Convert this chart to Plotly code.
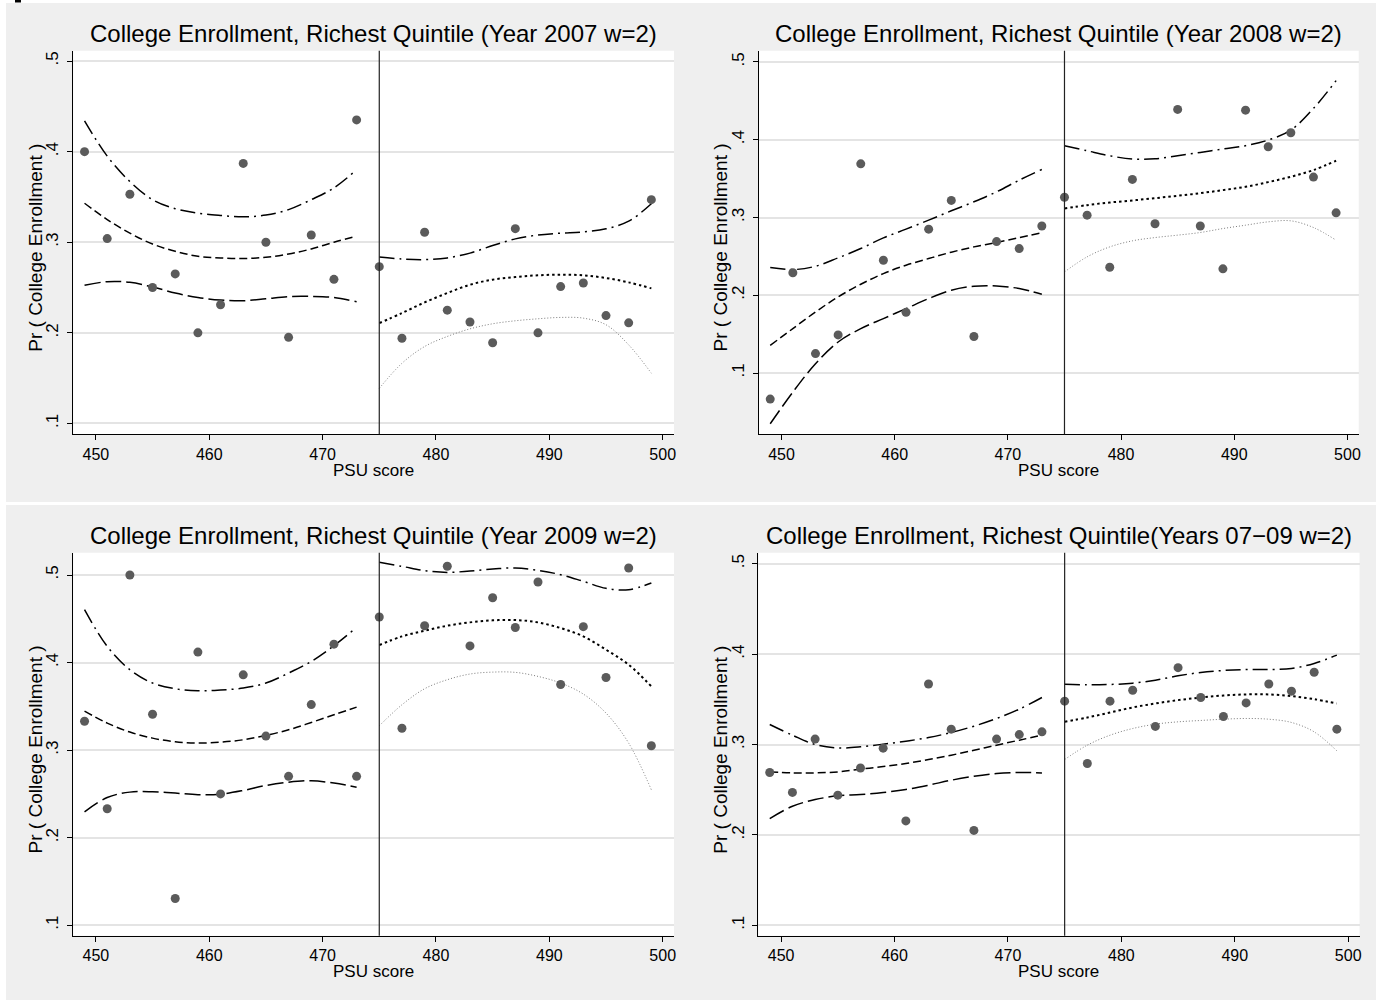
import plotly.graph_objects as go

# PSU score bins (w=2), left and right of the 475 cutoff
x_left = [449, 451, 453, 455, 457, 459, 461, 463, 465, 467, 469, 471, 473]
x_right = [475, 477, 479, 481, 483, 485, 487, 489, 491, 493, 495, 497, 499]
x_ticks = [450, 460, 470, 480, 490, 500]
y_ticks = [0.1, 0.2, 0.3, 0.4, 0.5]
y_tick_text = [".1", ".2", ".3", ".4", ".5"]
cutoff = 475

titles = [
    "College Enrollment, Richest Quintile (Year 2007 w=2)",
    "College Enrollment, Richest Quintile (Year 2008 w=2)",
    "College Enrollment, Richest Quintile (Year 2009 w=2)",
    "College Enrollment, Richest Quintile(Years 07\u221209 w=2)",
]
x_title = "PSU score"
y_title = "Pr ( College Enrollment )"

# ---- Year 2007 ----
y07_points = [0.400, 0.304, 0.353, 0.250, 0.265, 0.200, 0.231, 0.387, 0.300, 0.195, 0.308, 0.259, 0.435,
              0.273, 0.194, 0.311, 0.225, 0.212, 0.189, 0.315, 0.200, 0.251, 0.255, 0.219, 0.211, 0.347]
y07_hi_left = [0.434, 0.395, 0.367, 0.347, 0.337, 0.332, 0.3295, 0.328, 0.330, 0.336, 0.347, 0.360, 0.380]
y07_fit_left = [0.343, 0.325, 0.310, 0.298, 0.290, 0.2845, 0.2827, 0.282, 0.2834, 0.287, 0.2926, 0.300, 0.3066]
y07_lo_left = [0.2524, 0.2565, 0.2557, 0.2506, 0.2439, 0.239, 0.2362, 0.2354, 0.2376, 0.240, 0.2402, 0.239, 0.2343]
y07_hi_right = [0.2838, 0.2815, 0.2808, 0.2827, 0.288, 0.2963, 0.3037, 0.308, 0.310, 0.3114, 0.3148, 0.3232, 0.3424]
y07_fit_right = [0.2107, 0.2218, 0.2336, 0.2439, 0.2531, 0.2587, 0.2616, 0.2635, 0.2642, 0.2635, 0.2605, 0.2557, 0.2491]
y07_lo_right = [0.1387, 0.1664, 0.1849, 0.196, 0.2044, 0.210, 0.2133, 0.2155, 0.217, 0.2162, 0.2089, 0.1867, 0.1554]

# ---- Year 2008 ----
y08_points = [0.0665, 0.229, 0.125, 0.149, 0.369, 0.245, 0.178, 0.285, 0.322, 0.147, 0.269, 0.260, 0.289,
              0.326, 0.303, 0.236, 0.349, 0.292, 0.439, 0.289, 0.234, 0.438, 0.391, 0.409, 0.352, 0.306]
y08_hi_left = [0.2356, 0.233, 0.2373, 0.2481, 0.2601, 0.2738, 0.285, 0.2966, 0.3086, 0.3202, 0.333, 0.348, 0.3618]
y08_fit_left = [0.1356, 0.1571, 0.1785, 0.1979, 0.2142, 0.2279, 0.2386, 0.2472, 0.2554, 0.2622, 0.2678, 0.2742, 0.2803]
y08_lo_left = [0.0348, 0.0755, 0.112, 0.1399, 0.1571, 0.170, 0.1828, 0.1957, 0.2064, 0.2116, 0.212, 0.2086, 0.2013]
y08_hi_right = [0.3923, 0.3858, 0.3794, 0.3751, 0.3755, 0.3794, 0.3837, 0.388, 0.3923, 0.3996, 0.4124, 0.4403, 0.476]
y08_fit_right = [0.3116, 0.3159, 0.3193, 0.3219, 0.3249, 0.3279, 0.3313, 0.3352, 0.3395, 0.3455, 0.3524, 0.361, 0.373]
y08_lo_right = [0.230, 0.2494, 0.2622, 0.270, 0.2742, 0.2773, 0.2807, 0.2858, 0.2901, 0.2944, 0.2957, 0.2871, 0.2708]

# ---- Year 2009 ----
y09_points = [0.333, 0.233, 0.500, 0.341, 0.1305, 0.412, 0.250, 0.386, 0.316, 0.270, 0.352, 0.421, 0.270,
              0.452, 0.325, 0.442, 0.510, 0.419, 0.474, 0.440, 0.492, 0.375, 0.441, 0.383, 0.508, 0.305]
y09_hi_left = [0.4604, 0.4185, 0.3918, 0.3766, 0.3701, 0.3678, 0.3686, 0.3709, 0.3766, 0.388, 0.4013, 0.4192, 0.4402]
y09_fit_left = [0.3446, 0.3309, 0.3206, 0.3137, 0.3095, 0.308, 0.3091, 0.3118, 0.3168, 0.3232, 0.3316, 0.3404, 0.3491]
y09_lo_left = [0.2295, 0.2459, 0.252, 0.2524, 0.2509, 0.249, 0.2497, 0.2539, 0.2596, 0.2634, 0.265, 0.2623, 0.2577]
y09_hi_right = [0.5145, 0.5099, 0.505, 0.503, 0.5046, 0.5069, 0.508, 0.5053, 0.5004, 0.4928, 0.4848, 0.4832, 0.4909]
y09_fit_right = [0.420, 0.4299, 0.4364, 0.4421, 0.4459, 0.4482, 0.4486, 0.4459, 0.4394, 0.4299, 0.4147, 0.3975, 0.3728]
y09_lo_right = [0.3278, 0.3518, 0.3701, 0.3804, 0.3869, 0.3891, 0.3888, 0.3842, 0.3766, 0.364, 0.3423, 0.308, 0.2547]

# ---- Years 07-09 pooled ----
yall_points = [0.269, 0.247, 0.306, 0.244, 0.274, 0.296, 0.2155, 0.367, 0.317, 0.205, 0.306, 0.311, 0.314,
               0.348, 0.279, 0.348, 0.360, 0.320, 0.385, 0.352, 0.331, 0.346, 0.367, 0.359, 0.380, 0.317]
yall_hi_left = [0.3221, 0.3103, 0.300, 0.2963, 0.2974, 0.3004, 0.3037, 0.3077, 0.3133, 0.3203, 0.3288, 0.3391, 0.352]
yall_fit_left = [0.2697, 0.2686, 0.2686, 0.2697, 0.2727, 0.2756, 0.279, 0.2834, 0.2882, 0.2937, 0.2993, 0.3048, 0.3103]
yall_lo_left = [0.2181, 0.2317, 0.2391, 0.2432, 0.2446, 0.2469, 0.2502, 0.255, 0.2605, 0.2649, 0.2679, 0.269, 0.2686]
yall_hi_right = [0.3668, 0.3661, 0.3664, 0.3679, 0.3712, 0.376, 0.3797, 0.3819, 0.383, 0.383, 0.3841, 0.3897, 0.3989]
yall_fit_right = [0.3251, 0.3299, 0.3354, 0.341, 0.3454, 0.3491, 0.352, 0.3542, 0.3554, 0.3554, 0.3535, 0.3502, 0.3454]
yall_lo_right = [0.2834, 0.2993, 0.3103, 0.3177, 0.3225, 0.3251, 0.3266, 0.328, 0.3288, 0.328, 0.3244, 0.314, 0.293]

panels = [
    (y07_points, y07_hi_left, y07_fit_left, y07_lo_left, y07_hi_right, y07_fit_right, y07_lo_right),
    (y08_points, y08_hi_left, y08_fit_left, y08_lo_left, y08_hi_right, y08_fit_right, y08_lo_right),
    (y09_points, y09_hi_left, y09_fit_left, y09_lo_left, y09_hi_right, y09_fit_right, y09_lo_right),
    (yall_points, yall_hi_left, yall_fit_left, yall_lo_left, yall_hi_right, yall_fit_right, yall_lo_right),
]

# ---- layout geometry (pixels) ----
W, H = 1386, 1000
# plot boxes: (left, right, top, bottom)
boxes = [
    (73.3, 675.0, 50.7, 434.3),
    (760.0, 1360.7, 50.7, 434.3),
    (73.3, 675.0, 552.7, 935.7),
    (759.5, 1361.5, 552.7, 935.7),
]
y_ranges = [(0.088, 0.5114), (0.0212, 0.5145), (0.088, 0.5255), (0.0885, 0.5122)]
x_range = (448.0, 501.0)


def fx(px):
    return px / W


def fy(py):
    return 1 - py / H


FONT = "Liberation Sans, Arial, Helvetica, sans-serif"
MARKER = "#5b5b5b"
GRID = "#e4e4e4"
BG = "#efefef"

fig = go.Figure()
layout = dict(
    width=W, height=H, margin=dict(l=0, r=0, t=0, b=0),
    paper_bgcolor="white", plot_bgcolor="rgba(0,0,0,0)",
    showlegend=False, font=dict(family=FONT, color="black"),
)

shapes = [
    # grey graph regions
    dict(type="rect", xref="paper", yref="paper", x0=fx(6), x1=fx(1378), y0=fy(3), y1=fy(502),
         fillcolor=BG, line_width=0, layer="below"),
    dict(type="rect", xref="paper", yref="paper", x0=fx(6), x1=fx(1378), y0=fy(505), y1=fy(1000),
         fillcolor=BG, line_width=0, layer="below"),
    dict(type="rect", xref="paper", yref="paper", x0=fx(15), x1=fx(21), y0=fy(0), y1=fy(2.5),
         fillcolor="black", line_width=0, layer="above"),
]
annotations = []

line_styles = {
    "hi": dict(color="black", width=1.5, dash="15px,5px,2px,5px"),
    "fit_l": dict(color="black", width=1.5, dash="8px,4px"),
    "lo_l": dict(color="black", width=1.5, dash="16px,5px"),
    "fit_r": dict(color="black", width=2.0, dash="2.5px,3px"),
    "lo_r": dict(color="#7a7a7a", width=1.0, dash="1px,2px"),
}

for i, (pts, hi_l, fit_l, lo_l, hi_r, fit_r, lo_r) in enumerate(panels):
    k = "" if i == 0 else str(i + 1)
    xa, ya = "x" + k, "y" + k
    left, right, top, bottom = boxes[i]

    # white plot region
    shapes.append(dict(type="rect", xref="paper", yref="paper", x0=fx(left), x1=fx(right),
                       y0=fy(bottom), y1=fy(top), fillcolor="white", line_width=0, layer="below"))

    fig.add_trace(go.Scatter(x=x_left, y=hi_l, mode="lines", line=line_styles["hi"],
                             line_shape="spline", xaxis=xa, yaxis=ya))
    fig.add_trace(go.Scatter(x=x_left, y=fit_l, mode="lines", line=line_styles["fit_l"],
                             line_shape="spline", xaxis=xa, yaxis=ya))
    fig.add_trace(go.Scatter(x=x_left, y=lo_l, mode="lines", line=line_styles["lo_l"],
                             line_shape="spline", xaxis=xa, yaxis=ya))
    fig.add_trace(go.Scatter(x=x_right, y=hi_r, mode="lines", line=line_styles["hi"],
                             line_shape="spline", xaxis=xa, yaxis=ya))
    fig.add_trace(go.Scatter(x=x_right, y=fit_r, mode="lines", line=line_styles["fit_r"],
                             line_shape="spline", xaxis=xa, yaxis=ya))
    fig.add_trace(go.Scatter(x=x_right, y=lo_r, mode="lines", line=line_styles["lo_r"],
                             line_shape="spline", xaxis=xa, yaxis=ya))
    fig.add_trace(go.Scatter(x=x_left + x_right, y=pts, mode="markers",
                             marker=dict(color=MARKER, size=9, line_width=0),
                             xaxis=xa, yaxis=ya))

    # cutoff line
    shapes.append(dict(type="line", xref=xa, yref=ya + " domain", x0=cutoff, x1=cutoff, y0=0, y1=1,
                       line=dict(color="#222222", width=1.2), layer="above"))

    layout["xaxis" + k] = dict(
        domain=[fx(left), fx(right)], range=list(x_range), anchor=ya,
        tickmode="array", tickvals=x_ticks, ticks="outside", ticklen=5, tickwidth=1,
        tickcolor="black", showline=True, linecolor="black", linewidth=1,
        showgrid=False, zeroline=False, tickfont=dict(size=16, family=FONT),
    )
    layout["yaxis" + k] = dict(
        domain=[fy(bottom), fy(top)], range=list(y_ranges[i]), anchor=xa,
        tickmode="array", tickvals=y_ticks, ticktext=y_tick_text, tickangle=-90,
        ticks="outside", ticklen=5, tickwidth=1, tickcolor="black", ticklabelstandoff=2,
        showline=True, linecolor="black", linewidth=1,
        showgrid=True, gridcolor=GRID, gridwidth=1.5, zeroline=False,
        tickfont=dict(size=17, family=FONT),
    )

    cx = fx((left + right) / 2)
    annotations.append(dict(text=titles[i], xref="paper", yref="paper", x=cx, y=fy(top - 17.5),
                            xanchor="center", yanchor="middle", showarrow=False,
                            font=dict(size=24, family=FONT)))
    annotations.append(dict(text=x_title, xref="paper", yref="paper", x=cx, y=fy(bottom + 36),
                            xanchor="center", yanchor="middle", showarrow=False,
                            font=dict(size=17, family=FONT)))
    annotations.append(dict(text=y_title, xref="paper", yref="paper", x=fx(left - 38),
                            y=fy((top + bottom) / 2 + 5), xanchor="center", yanchor="middle",
                            textangle=-90, showarrow=False, font=dict(size=19, family=FONT)))

layout["shapes"] = shapes
layout["annotations"] = annotations
fig.update_layout(**layout)
fig.write_html("out.html")
